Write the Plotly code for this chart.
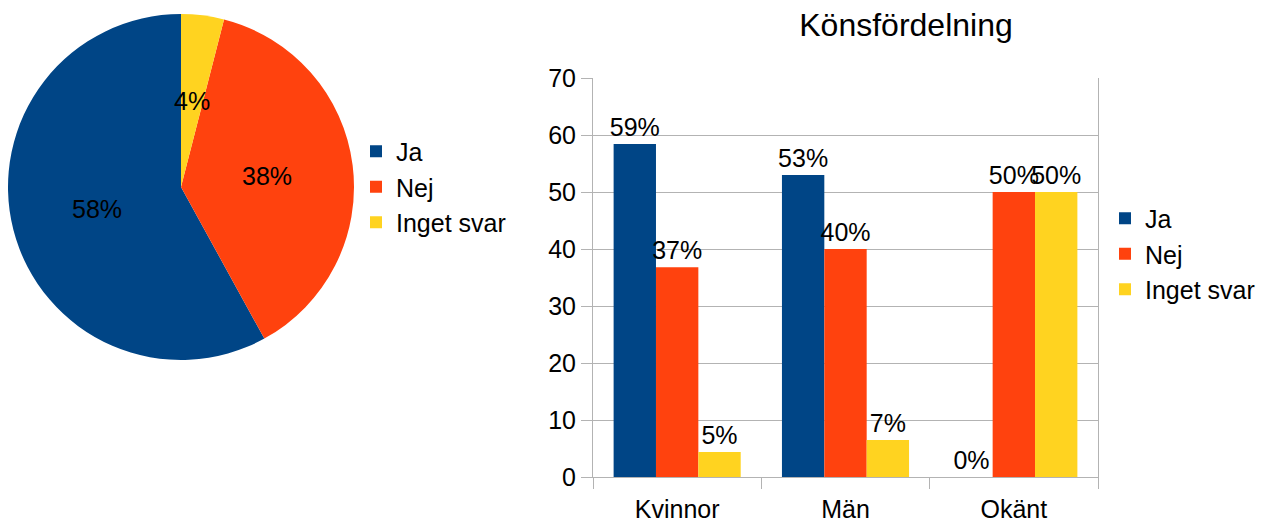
import math
import plotly.graph_objects as go

# ---- data ----
pie_labels = ["Ja", "Nej", "Inget svar"]
pie_values = [58, 38, 4]
pie_text = ["58%", "38%", "4%"]

categories = ["Kvinnor", "Män", "Okänt"]
series_names = ["Ja", "Nej", "Inget svar"]
ja_values = [58.4, 53.0, 0]
nej_values = [36.8, 40.0, 50]
inget_values = [4.4, 6.5, 50]
ja_text = ["59%", "53%", "0%"]
nej_text = ["37%", "40%", "50%"]
inget_text = ["5%", "7%", "50%"]

title_text = "Könsfördelning"
y_ticks = [0, 10, 20, 30, 40, 50, 60, 70]

colors = ["#004586", "#ff420e", "#ffd320"]
FONT = "Liberation Sans, Arial, sans-serif"
FS = 25

# page has an 8px body margin; size the figure to fill the rest of the window
OFF = 8
W, H = 1266 - OFF, 523 - OFF


def px(x):
    return (x - OFF) / W


def py(y):
    return 1 - (y - OFF) / H


# pie geometry (screen pixels)
PCX, PCY, PR = 181, 187, 173
pie_dom_x = [px(PCX - PR), px(PCX + PR)]
pie_dom_y = [py(PCY + PR), py(PCY - PR)]

fig = go.Figure()

total = sum(pie_values)
fig.add_trace(go.Pie(
    labels=pie_labels, values=pie_values, sort=False,
    direction="counterclockwise",
    rotation=-360 * pie_values[0] / total,
    marker=dict(colors=colors, line=dict(width=0)),
    textinfo="none",
    domain=dict(x=pie_dom_x, y=pie_dom_y),
    legend="legend", showlegend=True, hoverinfo="label+percent",
))

# pie labels at half radius on each slice's mid-angle (counterclockwise from 12 o'clock)
annotations = []
cum = 0.0
for txt, v in zip(pie_text, pie_values):
    mid = (cum + v / 2) / total * 2 * math.pi
    cum += v
    lx = PCX - 0.5 * PR * math.sin(mid)
    ly = PCY - 0.5 * PR * math.cos(mid)
    annotations.append(dict(
        x=px(lx), y=py(ly), xref="paper", yref="paper",
        text=txt, showarrow=False, xanchor="center", yanchor="middle",
        font=dict(size=FS, family=FONT, color="black"),
    ))

for name, vals, txt, col in zip(series_names, [ja_values, nej_values, inget_values],
                                [ja_text, nej_text, inget_text], colors):
    fig.add_trace(go.Bar(
        x=categories, y=vals, name=name, text=txt,
        textposition="outside", constraintext="none", cliponaxis=False,
        textfont=dict(color="black", size=FS, family=FONT),
        marker=dict(color=col, line=dict(width=0)),
        legend="legend2", xaxis="x", yaxis="y",
    ))

grid = "#b3b3b3"
fig.update_layout(
    width=W, height=H,
    margin=dict(l=0, r=0, t=0, b=0, autoexpand=False),
    paper_bgcolor="white", plot_bgcolor="white",
    font=dict(family=FONT, size=FS, color="black"),
    barmode="group", bargap=0.245, bargroupgap=0,
    annotations=annotations,
    title=dict(text=title_text, x=px(906), xanchor="center",
               y=py(25), yanchor="middle",
               font=dict(size=32, family=FONT, color="black")),
    xaxis=dict(domain=[px(593), px(1098)], anchor="y",
               showline=True, linecolor=grid, linewidth=1, mirror=False,
               ticks="outside", tickson="boundaries", ticklen=11,
               tickcolor=grid, showgrid=False, ticklabelstandoff=10,
               tickfont=dict(size=FS, family=FONT, color="black")),
    yaxis=dict(domain=[py(477), py(78)], anchor="x",
               range=[0, 70], tickvals=y_ticks,
               showline=True, linecolor=grid, linewidth=1, mirror=True,
               ticks="outside", ticklen=11, tickcolor=grid,
               showgrid=True, gridcolor=grid, gridwidth=1, zeroline=False,
               tickfont=dict(size=FS, family=FONT, color="black")),
    legend=dict(x=px(356), xanchor="left", y=py(187), yanchor="middle",
                font=dict(size=FS, family=FONT, color="black"),
                bgcolor="rgba(0,0,0,0)", itemclick=False),
    legend2=dict(x=px(1105), xanchor="left", y=py(254), yanchor="middle",
                 font=dict(size=FS, family=FONT, color="black"),
                 bgcolor="rgba(0,0,0,0)", itemclick=False),
)

fig.write_html("out.html")
